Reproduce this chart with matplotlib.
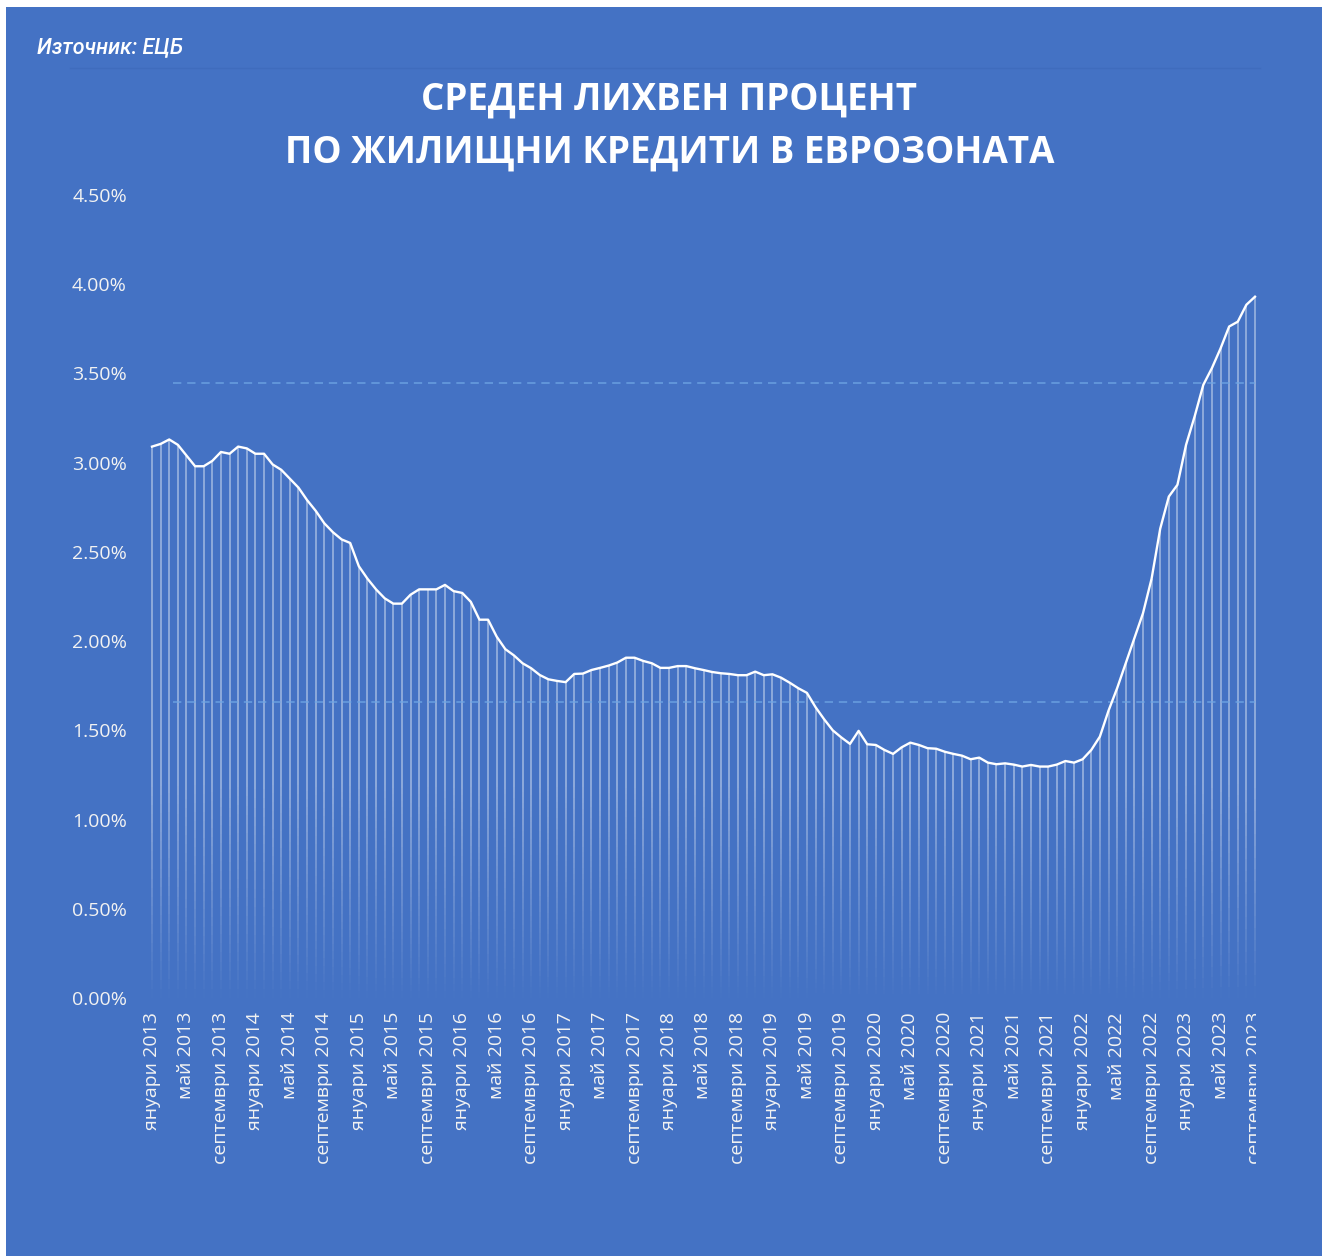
"""Average mortgage rate in the euro area, monthly, Jan 2013 - Sep 2023.

Line on a blue card with a faded white drop line under every month.
"""

import matplotlib

matplotlib.use("Agg")
import matplotlib.pyplot as plt  # noqa: E402
import numpy as np  # noqa: E402
from matplotlib.collections import LineCollection  # noqa: E402
from matplotlib.lines import Line2D  # noqa: E402
from matplotlib.patches import Rectangle  # noqa: E402

TITLE = "СРЕДЕН ЛИХВЕН ПРОЦЕНТ\nПО ЖИЛИЩНИ КРЕДИТИ В ЕВРОЗОНАТА"
SOURCE = "Източник: ЕЦБ"

# monthly rate in %, January 2013 .. September 2023 (129 months)
RATE = [
    3.09, 3.105, 3.13, 3.10, 3.04, 2.98, 2.98, 3.01, 3.06, 3.05, 3.09, 3.08,
    3.05, 3.05, 2.99, 2.96, 2.91, 2.86, 2.79, 2.73, 2.66, 2.61, 2.57, 2.55,
    2.42, 2.35, 2.29, 2.24, 2.21, 2.21, 2.26, 2.29, 2.29, 2.29, 2.315, 2.28,
    2.27, 2.22, 2.12, 2.12, 2.025, 1.955, 1.92, 1.876, 1.848, 1.81, 1.786, 1.777,
    1.77, 1.816, 1.818, 1.838, 1.85, 1.863, 1.88, 1.907, 1.907, 1.889, 1.876, 1.85,
    1.85, 1.86, 1.86, 1.848, 1.838, 1.827, 1.82, 1.816, 1.809, 1.809, 1.829, 1.809,
    1.814, 1.795, 1.767, 1.736, 1.71, 1.63, 1.562, 1.50, 1.46, 1.424, 1.497, 1.422,
    1.418, 1.39, 1.368, 1.405, 1.431, 1.418, 1.40, 1.397, 1.38, 1.368, 1.358, 1.338,
    1.347, 1.319, 1.31, 1.315, 1.308, 1.297, 1.306, 1.297, 1.297, 1.308, 1.328, 1.319,
    1.338, 1.39, 1.465, 1.61, 1.736, 1.876, 2.016, 2.156, 2.35, 2.63, 2.81, 2.876,
    3.10, 3.26, 3.436, 3.53, 3.64, 3.763, 3.79, 3.885, 3.93,
]

# one label every fourth month
TICK_LABELS = [
    "януари 2013", "май 2013", "септември 2013",
    "януари 2014", "май 2014", "септември 2014",
    "януари 2015", "май 2015", "септември 2015",
    "януари 2016", "май 2016", "септември 2016",
    "януари 2017", "май 2017", "септември 2017",
    "януари 2018", "май 2018", "септември 2018",
    "януари 2019", "май 2019", "септември 2019",
    "януари 2020", "май 2020", "септември 2020",
    "януари 2021", "май 2021", "септември 2021",
    "януари 2022", "май 2022", "септември 2022",
    "януари 2023", "май 2023", "септември 2023",
]
TICK_STEP = 4

# the two dashed reference levels, in %
REF_LEVELS = [3.447, 1.659]

Y_TICKS = [0.0, 0.5, 1.0, 1.5, 2.0, 2.5, 3.0, 3.5, 4.0, 4.5]

BLUE = "#4472C4"
W, H = 1324, 1256


def _fx(px):
    return px / W


def _fy(py):
    return 1 - py / H


def _drop_lines(ax, x, y, n_seg=60, top_alpha=0.5, fade_to=1.2):
    """White vertical lines from 0 to each value, fading out towards 0."""
    segs, cols = [], []
    for xi, yi in zip(x, y):
        edges = np.linspace(0, yi, n_seg + 1)
        for lo, hi in zip(edges[:-1], edges[1:]):
            mid = 0.5 * (lo + hi)
            a = top_alpha * min(1.0, mid / fade_to)
            segs.append([(xi, lo), (xi, hi)])
            cols.append((1, 1, 1, a))
    ax.add_collection(LineCollection(segs, colors=cols, linewidths=1.1,
                                     capstyle="butt"))


def main():
    plt.rcParams["font.family"] = ["Open Sans", "DejaVu Sans"]

    fig = plt.figure(figsize=(W / 100, H / 100), dpi=100, facecolor="white")
    fig.patches.append(Rectangle((_fx(6), 0), _fx(1316), 1 - 7 / H,
                                 transform=fig.transFigure, facecolor=BLUE,
                                 edgecolor="none", zorder=-2))
    # faint top edge of the inner chart area
    fig.lines.append(Line2D([_fx(70), _fx(1260)], [_fy(68), _fy(68)],
                            transform=fig.transFigure, color="#3f6cbd",
                            linewidth=1.0, zorder=-1))

    left, right, top, bottom = 140, 1265, 195, 998
    ax = fig.add_axes([_fx(left), _fy(bottom), _fx(right - left), (bottom - top) / H])
    ax.set_facecolor("none")

    y = np.asarray(RATE, dtype=float)
    x = np.arange(y.size)
    px_per_month = (1255 - 152) / (y.size - 1)

    _drop_lines(ax, x, y)
    for lvl in REF_LEVELS:
        ax.hlines(lvl, 2.4, x[-1], colors="#6fa6e4", linestyles=(0, (5, 3.5)),
                  linewidth=1.2, alpha=0.8, zorder=2)
    ax.plot(x, y, color="white", linewidth=1.7, solid_joinstyle="round", zorder=3)

    ax.set_xlim((left - 152) / px_per_month, (right - 152) / px_per_month)
    ax.set_ylim(0, 4.5)
    ax.set_yticks(Y_TICKS, [f"{v:.2f}%" for v in Y_TICKS])
    ax.set_xticks(x[::TICK_STEP], TICK_LABELS)
    ax.tick_params(axis="y", length=0, pad=9.4, labelsize=14, labelcolor="#f2f2f2")
    ax.tick_params(axis="x", length=0, pad=10, labelsize=14, labelcolor="#f2f2f2",
                   labelrotation=90)
    for lbl in ax.get_xticklabels():
        lbl.set_verticalalignment("top")
    # the last label runs off the plot card in the original
    clip = Rectangle((0, 0), _fx(1256), 1, transform=fig.transFigure)
    last = ax.get_xticklabels()[-1]
    last.set_clip_on(True)
    last.set_clip_path(clip)
    for side in ax.spines.values():
        side.set_visible(False)

    fig.text(0.5055, _fy(126), TITLE, ha="center", va="center", color="white",
             fontsize=26.5, fontweight="bold", linespacing=1.55)
    fig.text(_fx(37), _fy(48), SOURCE, ha="left", va="center", color="white",
             fontsize=15.5, style="italic", fontweight="medium",
             family=["Roboto", "DejaVu Sans"])

    fig.savefig("out.png", dpi=100, facecolor="white")
    plt.close(fig)


if __name__ == "__main__":
    main()
